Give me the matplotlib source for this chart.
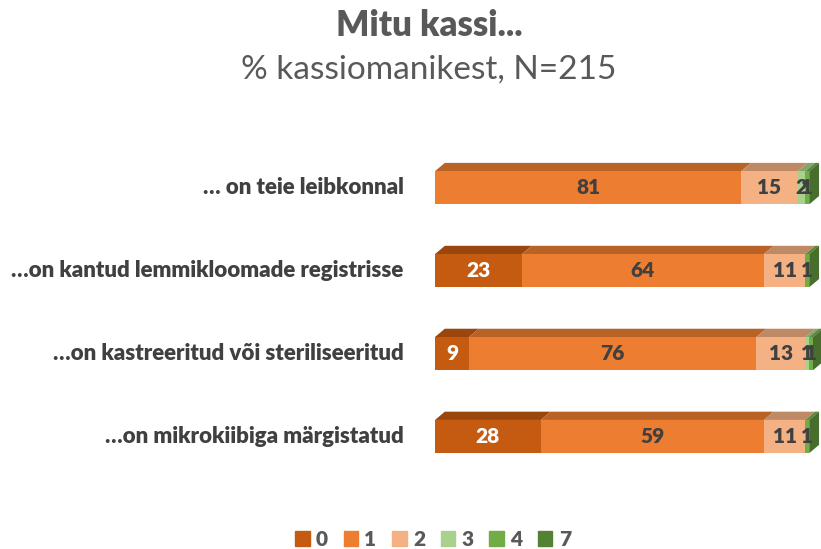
import matplotlib.pyplot as plt
from matplotlib.patches import Polygon
import matplotlib.colors as mcolors

plt.rcParams['font.family'] = ['Lato', 'DejaVu Sans']

categories = ["… on teie leibkonnal",
              "…on kantud lemmikloomade registrisse",
              "…on kastreeritud või steriliseeritud",
              "…on mikrokiibiga märgistatud"]
series = ["0", "1", "2", "3", "4", "7"]
values = [
    [0, 81, 15, 2, 1, 0],
    [23, 64, 11, 0, 1, 0],
    [9, 76, 13, 1, 1, 0],
    [28, 59, 11, 0, 1, 0],
]
colors = ["#C55A11", "#ED7D31", "#F4B183", "#A9D18E", "#70AD47", "#548235"]


def darker(c, f=0.78):
    r, g, b = mcolors.to_rgb(c)
    return (r * f, g * f, b * f)


fig = plt.figure(figsize=(8.21, 5.49), dpi=100)
ax = fig.add_axes([435 / 821, 1 - 478 / 549, 378 / 821, 340 / 549])
ax.set_xlim(0, 100)
ax.set_ylim(3.5, -0.6)
ax.axis('off')

h = 0.40
dx, dy = 2.6, 0.10

for i, row in enumerate(values):
    top = i - h / 2
    left = 0
    for j, v in enumerate(row):
        right = left + v
        if v > 0:
            ax.add_patch(Polygon([(left, top), (left + dx, top - dy),
                                  (right + dx, top - dy), (right, top)],
                                 closed=True, facecolor=darker(colors[j]),
                                 edgecolor='none', clip_on=False, zorder=1))
            ax.barh(i, v, left=left, height=h, color=colors[j], zorder=2,
                    clip_on=False)
            tc = 'white' if j == 0 else '#404040'
            ax.text(left + v / 2, i, str(v), ha='center', va='center',
                    fontsize=15, fontweight='heavy', color=tc, zorder=3)
        left = right
    ax.add_patch(Polygon([(left, top), (left + dx, top - dy),
                          (left + dx, top + h - dy), (left, top + h)],
                         closed=True, facecolor=darker(colors[-1], 0.85),
                         edgecolor='none', clip_on=False, zorder=1))
    ax.text(-3.5 * 100 / 378 * 9, i, categories[i], ha='right', va='center',
            fontsize=16, fontweight='heavy', color='#404040')

fig.text(429 / 821, 1 - 26 / 549, "Mitu kassi...", ha='center', va='center',
         fontsize=25, fontweight='heavy', color='#595959')
fig.text(429 / 821, 1 - 70 / 549, "% kassiomanikest, N=215", ha='center',
         va='center', fontsize=24, color='#595959')

handles = [plt.Rectangle((0, 0), 1, 1, color=c) for c in colors]
fig.legend(handles, series, loc='center', bbox_to_anchor=(433 / 821, 1 - 539 / 549),
           ncol=6, frameon=False, handlelength=0.7, handleheight=0.7,
           handletextpad=0.3, columnspacing=0.75,
           prop={'size': 15, 'weight': 'heavy'}, labelcolor='#595959')

fig.savefig("out.png", dpi=100)
